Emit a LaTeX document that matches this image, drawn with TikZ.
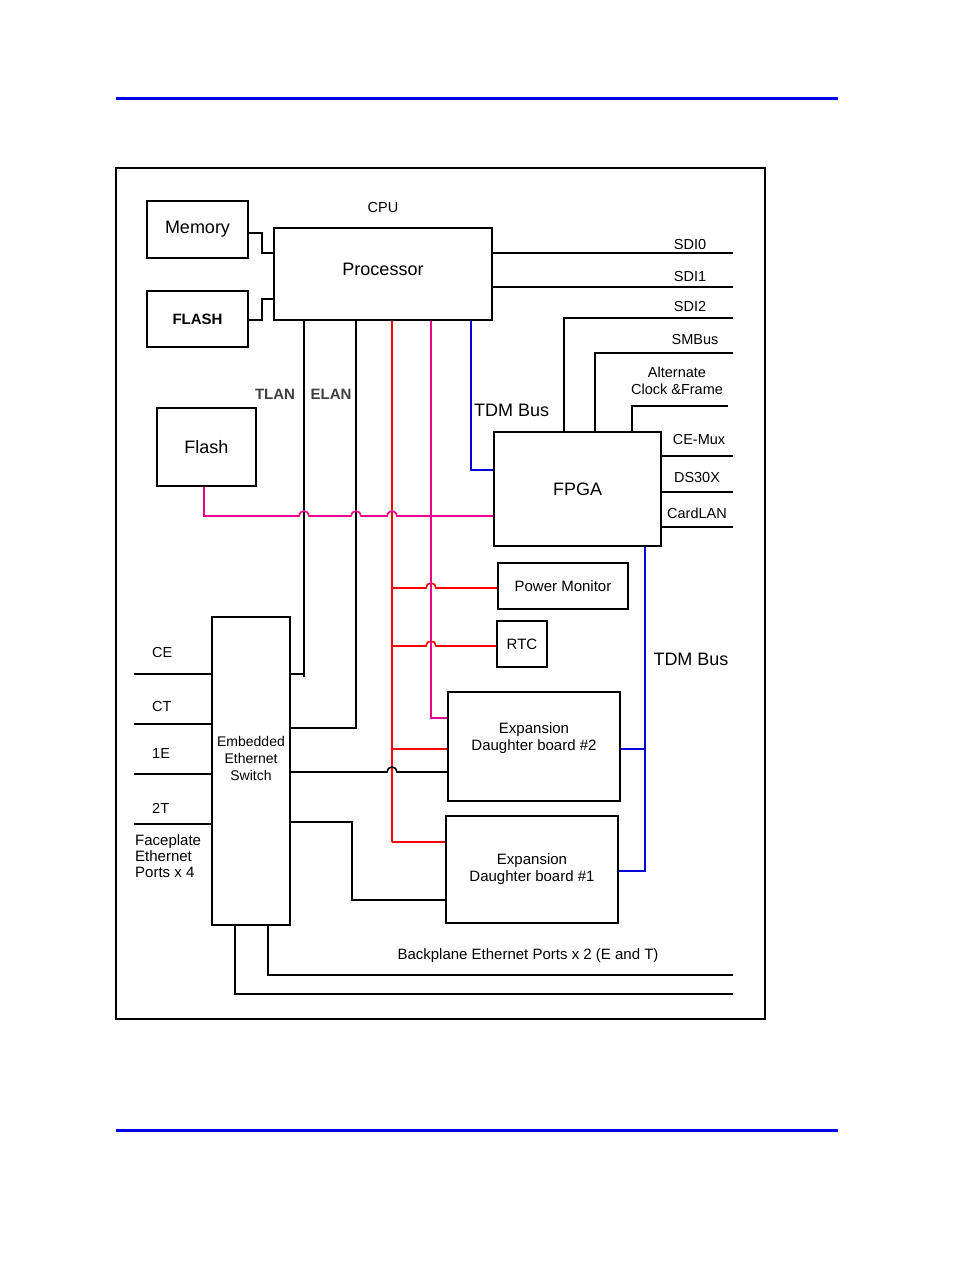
\documentclass[tikz,border=0pt]{standalone}
\usepackage{fontspec}
\setmainfont{Liberation Sans}
\usetikzlibrary{positioning}
\tikzset{
    blk/.style={draw, line width=1.5pt, inner sep=0pt, font=\fontsize{18}{20}\selectfont},
    lbl/.style={inner sep=0pt, font=\fontsize{14.5}{16}\selectfont, align=center},
    wire/.style={line width=1.6pt},
    red wire/.style={wire, red},
    mag wire/.style={wire, magenta},
    tdm wire/.style={wire, blue!85!black},
}
\newcommand{\hop}{arc[start angle=180, end angle=0, radius=5pt]}
\begin{document}
\begin{tikzpicture}[x=1pt, y=-1pt]
        \useasboundingbox (0,0) rectangle (954,1272);
        \draw[line width=3pt, blue!90!black] (116,98) -- (838,98);
        \draw[line width=3pt, blue!90!black] (116,1130) -- (838,1130);
        \draw[line width=1.5pt] (116,168) rectangle (765,1019);

        % blocks
        \node[blk, minimum width=101pt, minimum height=57pt] (mem) at (197.5,229.5) {Memory};
        \node[blk, minimum width=101pt, minimum height=56pt, font=\fontsize{15}{18}\selectfont\bfseries] (flash) at (197.5,319) {FLASH};
        \node[blk, minimum width=218pt, minimum height=92pt] (cpu) at (383,274) {\raisebox{10pt}{Processor}};
        \node[lbl, above=14pt of cpu] (cpulbl) {CPU};
        \node[blk, minimum width=99pt, minimum height=78pt] (boot) at (206.5,447) {Flash};
        \node[blk, minimum width=167pt, minimum height=114pt] (fpga) at (577.5,489) {FPGA};
        \node[blk, minimum width=130pt, minimum height=46pt, font=\fontsize{15}{16}\selectfont] (pwr) at (563,586) {Power Monitor};
        \node[blk, minimum width=50pt, minimum height=46pt, font=\fontsize{15}{16}\selectfont] (rtc) at (522,644) {RTC};
        \node[blk, minimum width=172pt, minimum height=109pt, align=center, font=\fontsize{15}{17}\selectfont] (exp2) at (534,746.5) {Expansion\\Daughter board \#2\\[2pt]};
        \node[blk, minimum width=172pt, minimum height=107pt, align=center, font=\fontsize{15}{17}\selectfont] (exp1) at (532,869.5) {Expansion\\Daughter board \#1};
        \node[blk, minimum width=78pt, minimum height=308pt, align=center, font=\fontsize{14}{17}\selectfont] (sw) at (251,771) {Embedded\\Ethernet\\Switch\\[8pt]};

        % memory and flash to processor
        \draw[wire] (mem.east |- 0,233) -- (262,233) -- (262,253) -- (cpu.west |- 0,253);
        \draw[wire] (flash.east |- 0,320) -- (262,320) -- (262,299) -- (cpu.west |- 0,299);

        % right side buses
        \coordinate (sdi0) at (733,253);
        \coordinate (sdi1) at (733,287);
        \coordinate (sdi2) at (733,318);
        \coordinate (smb) at (733,353);
        \coordinate (acf) at (728,406);
        \draw[wire] (cpu.east |- sdi0) -- (sdi0);
        \draw[wire] (cpu.east |- sdi1) -- (sdi1);
        \draw[wire] (fpga.north -| 564,0) -- (564,318) -- (sdi2);
        \draw[wire] (fpga.north -| 595,0) -- (595,353) -- (smb);
        \draw[wire] (fpga.north -| 632,0) -- (632,406) -- (acf);
        \node[lbl] at (690,245) {SDI0};
        \node[lbl] at (690,277) {SDI1};
        \node[lbl] at (690,307) {SDI2};
        \node[lbl] at (695,340) {SMBus};
        \node[lbl, font=\fontsize{14.5}{17}\selectfont] at (677,381) {Alternate\\Clock \&Frame};
        \coordinate (cemux) at (733,456);
        \coordinate (ds30x) at (733,492);
        \coordinate (clan) at (733,527);
        \draw[wire] (fpga.east |- cemux) -- (cemux);
        \draw[wire] (fpga.east |- ds30x) -- (ds30x);
        \draw[wire] (fpga.east |- clan) -- (clan);
        \node[lbl] at (699,440) {CE-Mux};
        \node[lbl] at (697,478) {DS30X};
        \node[lbl] at (697,513) {CardLAN};

        % TLAN and ELAN
        \draw[wire] (cpu.south -| 304,0) -- (304,677);
        \draw[wire] (sw.east |- 0,674) -- (304,674);
        \draw[wire] (cpu.south -| 356,0) -- (356,728) -- (sw.east |- 0,728);
        \node[lbl, font=\fontsize{15}{16}\selectfont\bfseries, text=black!75] at (275,394) {TLAN};
        \node[lbl, font=\fontsize{15}{16}\selectfont\bfseries, text=black!75] at (331,394) {ELAN};

        % red bus
        \draw[red wire] (cpu.south -| 392,0) -- (392,842);
        \draw[red wire] (392,588) -- (426,588) \hop -- (pwr.west |- 0,588);
        \draw[red wire] (392,646) -- (426,646) \hop -- (rtc.west |- 0,646);
        \draw[red wire] (392,749) -- (exp2.west |- 0,749);
        \draw[red wire] (392,842) -- (exp1.west |- 0,842);

        % magenta bus
        \draw[mag wire] (cpu.south -| 431,0) -- (431,718) -- (exp2.west |- 0,718);
        \draw[mag wire] (boot.south -| 204,0) -- (204,516) -- (299,516) \hop -- (351,516) \hop -- (387,516) \hop -- (fpga.west |- 0,516);

        % TDM bus
        \draw[tdm wire] (cpu.south -| 471,0) -- (471,470) -- (fpga.west |- 0,470);
        \node[lbl, font=\fontsize{18}{20}\selectfont, anchor=west] at (474,410) {TDM Bus};
        \draw[tdm wire] (fpga.south -| 645,0) -- (645,871) -- (exp1.east |- 0,871);
        \draw[tdm wire] (exp2.east |- 0,749) -- (645,749);
        \node[lbl, font=\fontsize{18}{20}\selectfont] at (691,659) {TDM Bus};

        % switch to daughter boards
        \draw[wire] (sw.east |- 0,772) -- (387,772) \hop -- (exp2.west |- 0,772);
        \draw[wire] (sw.east |- 0,822) -- (352,822) -- (352,900) -- (exp1.west |- 0,900);

        % faceplate ports
        \foreach \py/\ly/\nm in {674/652/CE, 724/706/CT, 774/754/1E, 824/808/2T} {
            \coordinate (fp\nm) at (134,\py);
            \draw[wire] (fp\nm) -- (sw.west |- fp\nm);
            \node[lbl, anchor=west] at (152,\ly) {\nm};
        }
        \node[lbl, anchor=north west, align=left, font=\fontsize{15}{16}\selectfont] at (135,834) {Faceplate\\Ethernet\\Ports x 4};

        % backplane ports
        \coordinate (bpT) at (733,975);
        \coordinate (bpE) at (733,994);
        \draw[wire] (sw.south -| 268,0) -- (268,975) -- (bpT);
        \draw[wire] (sw.south -| 235,0) -- (235,994) -- (bpE);
        \node[lbl, font=\fontsize{15}{16}\selectfont] at (528,956) {Backplane Ethernet Ports x 2 (E and T)};
    \end{tikzpicture}
\end{document}
